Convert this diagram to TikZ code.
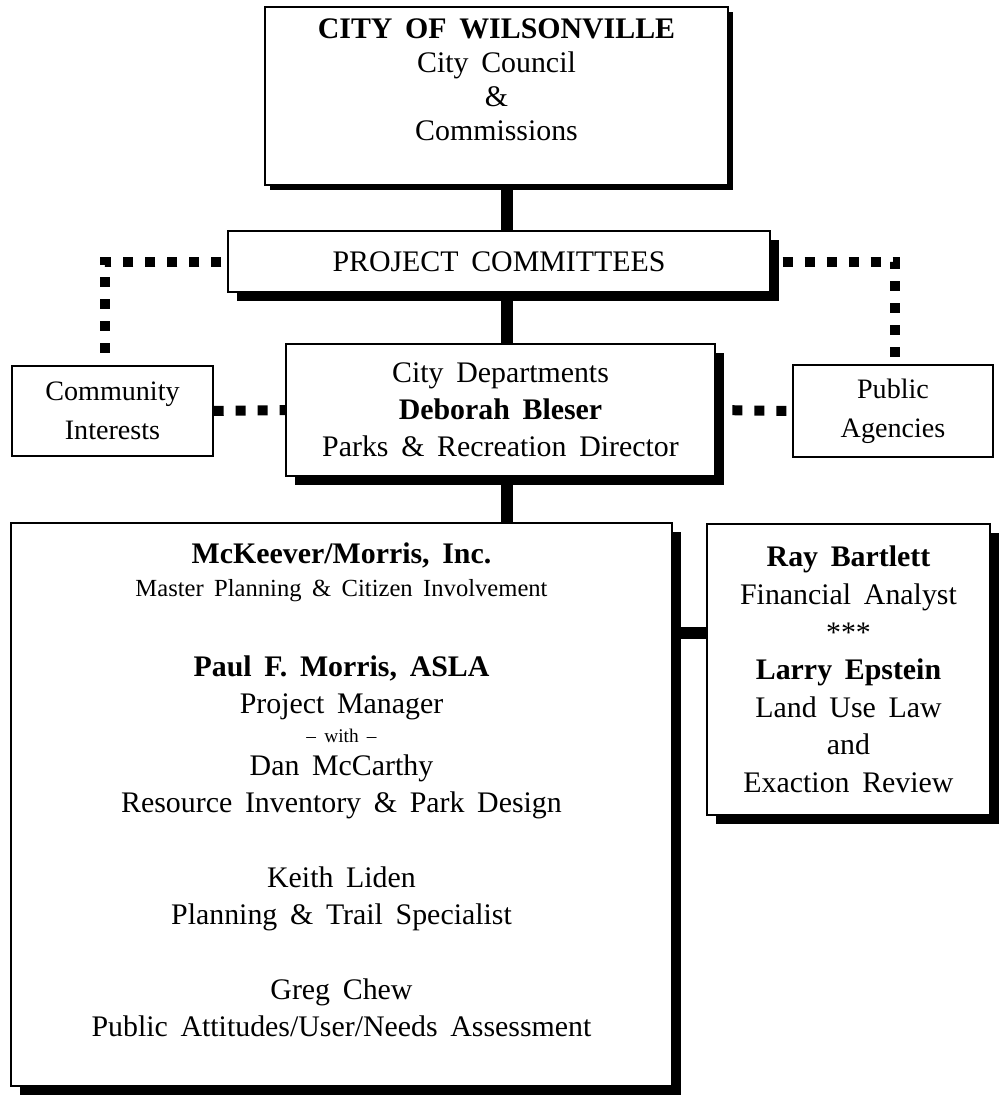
\documentclass[tikz,border=0pt]{standalone}
\usepackage{fontspec}
\setmainfont{Liberation Serif}[WordSpace=1.7]
\usetikzlibrary{shadows}

\tikzset{
  orgbox/.style={draw, line width=0.8pt, fill=white, align=center, inner sep=0pt,
    font=\fontsize{17}{21}\selectfont},
  shadowed/.style={drop shadow={shadow xshift=#1, shadow yshift=-#1, fill=black, opacity=1}},
  shadowed/.default=0.18cm,
  trunk/.style={line width=0.24cm},
  dotlink/.style={line width=0.2cm, dash pattern=on 0.2cm off 0.24cm}
}

\begin{document}
\begin{tikzpicture}[x=0.02cm, y=-0.02cm]
    \useasboundingbox (0,0) rectangle (1000,1095);

    \node[orgbox, shadowed=0.1cm, minimum width=9.26cm, minimum height=3.56cm,
      font=\fontsize{17}{19.3}\selectfont] (council) at (496.5,96)
      {{\bfseries CITY OF WILSONVILLE}\\City Council\\\&\\Commissions\rule[-0.66cm]{0pt}{0.66cm}};
    \node[orgbox, shadowed, minimum width=10.84cm, minimum height=1.22cm] (committees) at (499,261.5)
      {PROJECT COMMITTEES};
    \node[orgbox, shadowed, minimum width=8.58cm, minimum height=2.64cm] (depts) at (500.5,410)
      {City Departments\\{\bfseries Deborah Bleser}\\Parks \& Recreation Director};
    \node[orgbox, minimum width=4.02cm, minimum height=1.8cm, font=\fontsize{16}{22}\selectfont] (community) at (112.5,411)
      {Community\\Interests};
    \node[orgbox, minimum width=4.0cm, minimum height=1.84cm, font=\fontsize{16}{22}\selectfont] (agencies) at (893,411)
      {Public\\Agencies};

    % consultant team
    \node[orgbox, shadowed, minimum width=13.22cm, minimum height=11.26cm] (consultants) at (341.5,804.5)
      {{\bfseries McKeever/Morris, Inc.}\\[-0.08cm]
       {\fontsize{14}{17}\selectfont Master Planning \& Citizen Involvement}\\[0.86cm]
       {\bfseries Paul F. Morris, ASLA}\\
       Project Manager\\[-0.14cm]
       {\fontsize{11}{13}\selectfont -- with --}\\[-0.08cm]
       Dan McCarthy\\
       Resource Inventory \& Park Design\\[0.76cm]
       Keith Liden\\
       Planning \& Trail Specialist\\[0.76cm]
       Greg Chew\\
       Public Attitudes/User/Needs Assessment\rule[-0.6cm]{0pt}{0.6cm}};
    \node[orgbox, shadowed, minimum width=5.66cm, minimum height=5.82cm,
      font=\fontsize{17}{21.4}\selectfont] (advisors) at (848.5,669.5)
      {{\bfseries Ray Bartlett}\\Financial Analyst\\***\\{\bfseries Larry Epstein}\\Land Use Law\\and\\Exaction Review};

    % solid links
    \coordinate (spine) at (507,0);
    \coordinate (tie) at (0,633);
    \draw[trunk] (council.south -| spine) -- (committees.north -| spine);
    \draw[trunk] (committees.south -| spine) -- (depts.north -| spine);
    \draw[trunk] (depts.south -| spine) -- (consultants.north -| spine);
    \draw[trunk] (consultants.east |- tie) -- (advisors.west |- tie);

    % dotted links
    \draw[dotlink, dash phase=0.32cm] (committees.west) -| ([xshift=-0.15cm]community.north);
    \draw[dotlink, dash phase=0.2cm] (committees.east) -| ([xshift=0.04cm]agencies.north);
    \draw[dotlink] (community.east) -- (depts.west);
    \draw[dotlink, dash phase=0.32cm] (agencies.west) -- (depts.east);
\end{tikzpicture}
\end{document}
